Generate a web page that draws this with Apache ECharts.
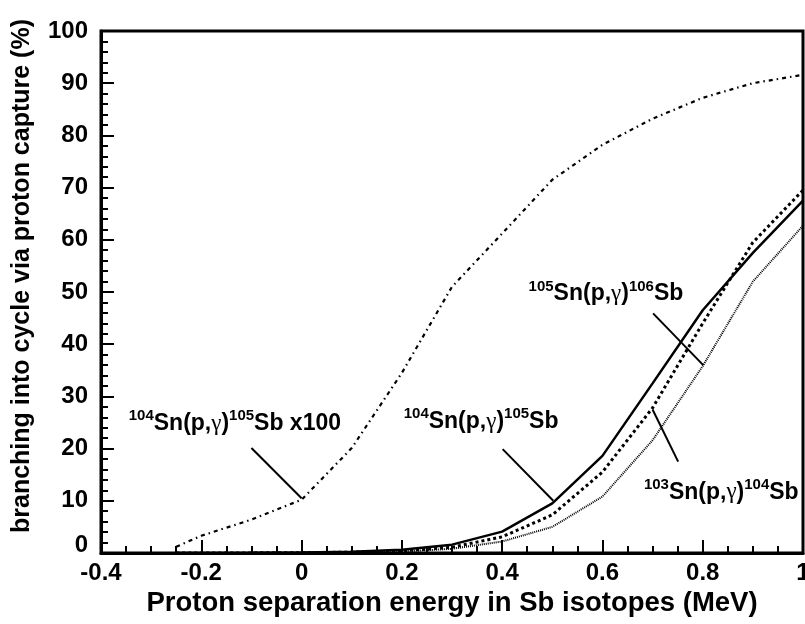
<!DOCTYPE html>
<html>
<head>
<meta charset="utf-8">
<script src="https://cdn.jsdelivr.net/npm/echarts@6/dist/echarts.min.js"></script>
<style>
  html, body { margin: 0; padding: 0; background: #fff; }
  #chart { width: 805px; height: 624px; }
</style>
</head>
<body>
<div id="chart"></div>
<script>
// proton separation energy (MeV)
const xVals = [-0.25, -0.2, -0.1, 0, 0.1, 0.2, 0.3, 0.4, 0.5, 0.6, 0.7, 0.8, 0.9, 1.0];
// branching (%) for each reaction
const sn104x100 = [1.2, 3.3, 6.4, 10.2, 20.1, 34.5, 51, 61.2, 71.5, 78.2, 83.2, 87.2, 90, 91.6];
const sn104 = [0, 0.01, 0.03, 0.1, 0.25, 0.6, 1.6, 4.1, 9.5, 18.6, 32.5, 46.5, 57.5, 67.5];
const sn103 = [0, 0.01, 0.02, 0.06, 0.15, 0.4, 1.1, 3.1, 7.3, 15.5, 27.8, 44, 59.5, 69.5];
const sn105 = [0, 0.005, 0.01, 0.03, 0.08, 0.25, 0.8, 2.2, 5, 10.8, 21.6, 35.8, 52, 62.7];

// annotation text and leader lines (data coords)
const labelTexts = [
  '{s|104}{m|Sn(p,}{g|γ}{m|)}{s|105}{m|Sb x100}',
  '{s|104}{m|Sn(p,}{g|γ}{m|)}{s|105}{m|Sb}',
  '{s|105}{m|Sn(p,}{g|γ}{m|)}{s|106}{m|Sb}',
  '{s|103}{m|Sn(p,}{g|γ}{m|)}{s|104}{m|Sb}'
];
const labelAnchors = [[-0.133, 24.8], [0.358, 25.2], [0.607, 49.6], [0.837, 11.6]];
const leaders = [
  [[-0.1, 20.1], [0, 10.5]],
  [[0.401, 19.9], [0.502, 10.0]],
  [[0.701, 45.9], [0.801, 36.0]],
  [[0.700, 27.5], [0.751, 17.5]]
];

const FONT = "'Liberation Sans', Arial, Helvetica, sans-serif";
const chart = echarts.init(document.getElementById('chart'));

function pairs(ys) {
  return xVals.map((x, i) => [x, ys[i]]);
}

const tickLabel = { fontFamily: FONT, fontWeight: 'bold', fontSize: 24, color: '#000' };

chart.setOption({
  animation: false,
  backgroundColor: '#fff',
  grid: {
    left: 101, right: 2, top: 31, bottom: 71,
    containLabel: false, outerBoundsMode: 'none',
    show: true, borderColor: '#000', borderWidth: 3
  },
  xAxis: {
    type: 'value', min: -0.4, max: 1, interval: 0.2,
    name: 'Proton separation energy in Sb isotopes (MeV)',
    nameLocation: 'middle', nameGap: 36,
    nameTextStyle: { fontFamily: FONT, fontWeight: 'bold', fontSize: 27.5, color: '#000' },
    axisLine: { onZero: false, lineStyle: { color: '#000', width: 3 } },
    axisTick: { inside: true, length: 13, lineStyle: { color: '#000', width: 2 } },
    minorTick: { show: true, splitNumber: 4, length: 7, lineStyle: { color: '#000', width: 2 } },
    splitLine: { show: false },
    axisLabel: Object.assign({ margin: 8, formatter: v => String(Math.round(v * 10) / 10) }, tickLabel)
  },
  yAxis: {
    type: 'value', min: 0, max: 100, interval: 10,
    name: 'branching into cycle via proton capture (%)',
    nameLocation: 'middle', nameGap: 66,
    nameTextStyle: { fontFamily: FONT, fontWeight: 'bold', fontSize: 25, color: '#000', padding: [0, 0, 0, 32] },
    axisLine: { onZero: false, lineStyle: { color: '#000', width: 3 } },
    axisTick: { inside: true, length: 13, lineStyle: { color: '#000', width: 2 } },
    minorTick: { show: true, splitNumber: 5, length: 7, lineStyle: { color: '#000', width: 2 } },
    splitLine: { show: false },
    axisLabel: Object.assign({
      margin: 13,
      formatter: v => v === 0 ? '{z|0}' : String(v),
      rich: { z: { fontFamily: FONT, fontWeight: 'bold', fontSize: 24, color: '#000', padding: [0, 0, 16, 0] } }
    }, tickLabel)
  },
  series: [
    {
      type: 'line', data: pairs(sn104x100), symbol: 'none',
      lineStyle: { color: '#000', width: 2.2, type: [4, 4, 1.5, 4] }
    },
    {
      type: 'line', data: pairs(sn105), symbol: 'none',
      lineStyle: { color: '#000', width: 2, type: [1, 1] }
    },
    {
      type: 'line', data: pairs(sn103), symbol: 'none',
      lineStyle: { color: '#000', width: 3, type: [3, 3] }
    },
    {
      type: 'line', data: pairs(sn104), symbol: 'none',
      lineStyle: { color: '#000', width: 2.5, type: 'solid' },
      markLine: {
        silent: true, symbol: ['none', 'none'], animation: false,
        label: { show: false },
        lineStyle: { color: '#000', width: 2, type: 'solid' },
        data: leaders.map(l => [{ coord: l[0] }, { coord: l[1] }])
      }
    }
  ]
});

// reaction labels with superscript mass numbers
const rich = {
  m: { fontFamily: FONT, fontWeight: 'bold', fontSize: 23, lineHeight: 30, fill: '#000' },
  s: { fontFamily: FONT, fontWeight: 'bold', fontSize: 15, lineHeight: 15, verticalAlign: 'top', fill: '#000' },
  g: { fontFamily: "'Liberation Serif', 'DejaVu Serif', serif", fontWeight: 'normal', fontSize: 23, lineHeight: 30, fill: '#000' }
};
chart.setOption({
  graphic: labelTexts.map((t, i) => {
    const p = chart.convertToPixel({ gridIndex: 0 }, labelAnchors[i]);
    return {
      type: 'text', x: p[0], y: p[1], silent: true,
      style: { text: t, rich: rich, align: 'center', verticalAlign: 'middle', fill: '#000' }
    };
  })
});
</script>
</body>
</html>
